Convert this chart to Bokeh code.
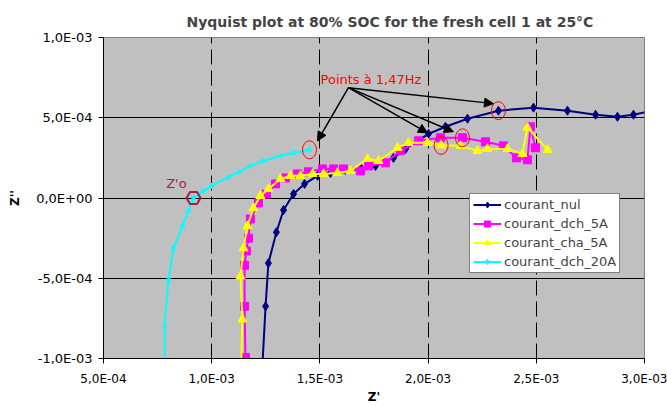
from bokeh.plotting import figure
from bokeh.models import (Range1d, FixedTicker, CustomJSTickFormatter, Legend, LegendItem,
                          Arrow, NormalHead, Label)
from bokeh.embed import file_html
from bokeh.resources import INLINE

title_text = "Nyquist plot at 80% SOC for the fresh cell 1 at 25°C"
x_label = "Z'"
y_label = "Z''"
x_ticks = [5e-4, 1e-3, 1.5e-3, 2e-3, 2.5e-3, 3e-3]
y_ticks = [-1e-3, -5e-4, 0.0, 5e-4, 1e-3]

series_names = ["courant_nul", "courant_dch_5A", "courant_cha_5A", "courant_dch_20A"]

nul_x = [1.228e-3, 1.249e-3, 1.262e-3, 1.299e-3, 1.332e-3, 1.378e-3, 1.429e-3, 1.489e-3,
         1.549e-3, 1.618e-3, 1.688e-3, 1.757e-3, 1.840e-3, 1.896e-3, 2.002e-3, 2.080e-3,
         2.182e-3, 2.325e-3, 2.487e-3, 2.644e-3, 2.774e-3, 2.875e-3, 2.949e-3, 3.03e-3]
nul_y = [-1.2e-3, -6.75e-4, -4.06e-4, -2.13e-4, -7.5e-5, 2.5e-5, 8.8e-5, 1.38e-4,
         1.56e-4, 1.75e-4, 1.88e-4, 2.0e-4, 2.5e-4, 3.06e-4, 4.0e-4, 4.44e-4,
         4.94e-4, 5.44e-4, 5.63e-4, 5.44e-4, 5.19e-4, 5.06e-4, 5.19e-4, 5.42e-4]

dch5_x = [1.158e-3, 1.156e-3, 1.152e-3, 1.152e-3, 1.160e-3, 1.170e-3, 1.179e-3, 1.216e-3,
          1.253e-3, 1.295e-3, 1.341e-3, 1.396e-3, 1.447e-3, 1.512e-3, 1.563e-3, 1.609e-3,
          1.688e-3, 1.725e-3, 1.803e-3, 1.872e-3, 1.956e-3, 2.057e-3, 2.159e-3, 2.265e-3,
          2.348e-3, 2.408e-3, 2.459e-3, 2.473e-3, 2.496e-3]
dch5_y = [-1.2e-3, -9.94e-4, -6.75e-4, -4.19e-4, -3.3e-4, -2.5e-4, -1.31e-4, -3.1e-5,
          2.5e-5, 8.8e-5, 1.25e-4, 1.5e-4, 1.63e-4, 1.81e-4, 1.81e-4, 1.81e-4,
          1.69e-4, 2.0e-4, 2.19e-4, 2.94e-4, 3.56e-4, 3.75e-4, 3.75e-4, 3.5e-4,
          3.25e-4, 2.5e-4, 2.38e-4, 4.44e-4, 3.13e-4]

cha5_x = [1.133e-3, 1.142e-3, 1.133e-3, 1.147e-3, 1.165e-3, 1.193e-3, 1.225e-3, 1.262e-3,
          1.318e-3, 1.364e-3, 1.410e-3, 1.466e-3, 1.517e-3, 1.581e-3, 1.641e-3, 1.720e-3,
          1.771e-3, 1.859e-3, 1.909e-3, 1.997e-3, 2.060e-3, 2.150e-3, 2.228e-3, 2.274e-3,
          2.367e-3, 2.436e-3, 2.459e-3, 2.552e-3]
cha5_y = [-1.2e-3, -7.56e-4, -4.88e-4, -3.13e-4, -1.75e-4, -6.3e-5, 1.3e-5, 5.6e-5,
          1.19e-4, 1.38e-4, 1.38e-4, 1.5e-4, 1.5e-4, 1.56e-4, 1.69e-4, 2.44e-4,
          2.31e-4, 3.13e-4, 3.44e-4, 3.44e-4, 3.28e-4, 3.25e-4, 2.94e-4, 3.06e-4,
          3.06e-4, 2.75e-4, 4.38e-4, 3.0e-4]

dch20_x = [7.85e-4, 7.82e-4, 8.00e-4, 8.23e-4, 8.65e-4, 8.93e-4, 9.16e-4, 9.62e-4,
           9.99e-4, 1.078e-3, 1.128e-3, 1.179e-3, 1.239e-3, 1.318e-3, 1.378e-3, 1.452e-3]
dch20_y = [-1.2e-3, -7.94e-4, -5.13e-4, -3.13e-4, -1.75e-4, -8.1e-5, 0.0, 4.4e-5,
           7.5e-5, 1.31e-4, 1.63e-4, 2.0e-4, 2.31e-4, 2.63e-4, 2.81e-4, 3.0e-4]

# index of the 1.47 Hz point in each series, and of Z'o in the 20A series
idx_147 = {"nul": 17, "dch5": 22, "cha5": 20, "dch20": 15}
idx_z0 = 6

# annotation anchors
note_text = "Points à 1,47Hz"
note_pos = (1.503e-3, 7.375e-4)
arrow_tail = (1.632e-3, 6.875e-4)
arrow_heads_x = [1.489e-3, 2.302e-3, 1.997e-3, 2.117e-3]
arrow_heads_y = [3.56e-4, 5.88e-4, 4.06e-4, 4.13e-4]
z0_text = "Z'o"
z0_pos = (8.37e-4, 8.75e-5)

FONT = "DejaVu Sans"
ZO_COLOR = "#A0204C"

p = figure(width=667, height=406, output_backend="svg", toolbar_location=None,
           x_range=Range1d(5e-4, 3e-3), y_range=Range1d(-1e-3, 1e-3),
           min_border_left=103, min_border_right=23, min_border_top=37, min_border_bottom=48)
p.background_fill_color = "#C0C0C0"
p.border_fill_color = "white"
p.outline_line_color = "#808080"

p.title.text = title_text
p.title.align = "left"
p.title.offset = 83
p.title.text_font = FONT
p.title.text_font_style = "bold"
p.title.text_font_size = "14px"
p.title.standoff = 16

fmt = CustomJSTickFormatter(code="""
const s = tick.toExponential(1);
const parts = s.split('e');
const sign = parts[1][0];
let d = parts[1].slice(1);
if (d.length < 2) d = '0' + d;
return parts[0].replace('.', ',') + 'E' + sign + d;
""")

for ax, ticks in ((p.xaxis[0], x_ticks), (p.yaxis[0], y_ticks)):
    ax.ticker = FixedTicker(ticks=ticks)
    ax.formatter = fmt
    ax.axis_line_color = "black"
    ax.major_tick_line_color = "black"
    ax.major_tick_out = 5
    ax.major_tick_in = 0
    ax.minor_tick_line_color = None
    ax.major_label_text_font = FONT
    ax.major_label_text_font_size = "12px"
    ax.major_label_text_color = "black"
    ax.axis_label_text_font = FONT
    ax.axis_label_text_font_size = "12px"
    ax.axis_label_text_font_style = "bold"
    ax.axis_label_text_color = "black"

p.yaxis.major_label_text_font_size = "13px"
p.xaxis.axis_label = x_label
p.yaxis.axis_label = y_label
p.xaxis.major_label_standoff = 8
p.xaxis.axis_label_standoff = 1
p.yaxis.major_label_standoff = 6
p.yaxis.axis_label_standoff = 11

p.xgrid.ticker = FixedTicker(ticks=x_ticks[1:-1])
p.xgrid.grid_line_color = "black"
p.xgrid.grid_line_dash = "15 6"
p.xgrid.grid_line_width = 1
p.ygrid.ticker = FixedTicker(ticks=y_ticks)
p.ygrid.grid_line_color = "black"
p.ygrid.grid_line_width = 1

items = []
r1 = p.line(nul_x, nul_y, line_color="#000080", line_width=2)
s1 = p.scatter(nul_x, nul_y, marker="diamond", size=9, color="#000080")
items.append(LegendItem(label=series_names[0], renderers=[r1, s1]))

r2 = p.line(dch5_x, dch5_y, line_color="#FF00FF", line_width=2)
s2 = p.scatter(dch5_x, dch5_y, marker="square", size=8, color="#FF00FF")
items.append(LegendItem(label=series_names[1], renderers=[r2, s2]))

r3 = p.line(cha5_x, cha5_y, line_color="#FFFF00", line_width=2)
s3 = p.scatter(cha5_x, cha5_y, marker="triangle", size=9, color="#FFFF00")
items.append(LegendItem(label=series_names[2], renderers=[r3, s3]))

r4 = p.line(dch20_x, dch20_y, line_color="#00FFFF", line_width=2)
s4 = p.scatter(dch20_x, dch20_y, marker="asterisk", size=6, line_color="#00FFFF", line_width=1)
items.append(LegendItem(label=series_names[3], renderers=[r4, s4]))

# red circles around the 1.47 Hz points
cx = [nul_x[idx_147["nul"]], dch5_x[idx_147["dch5"]], cha5_x[idx_147["cha5"]], dch20_x[idx_147["dch20"]]]
cy = [nul_y[idx_147["nul"]], dch5_y[idx_147["dch5"]], cha5_y[idx_147["cha5"]], dch20_y[idx_147["dch20"]]]
p.ellipse(x=cx, y=cy, width=14, height=18, width_units="screen", height_units="screen",
          fill_color=None, line_color="#FF0000", line_width=1)

# Z'o marker
p.scatter(x=[dch20_x[idx_z0]], y=[dch20_y[idx_z0]], marker="hex", size=14,
          fill_color=None, line_color=ZO_COLOR, line_width=2)

for hx, hy in zip(arrow_heads_x, arrow_heads_y):
    p.add_layout(Arrow(end=NormalHead(size=9, fill_color="black", line_color="black"),
                       x_start=arrow_tail[0], y_start=arrow_tail[1], x_end=hx, y_end=hy,
                       line_color="black", line_width=1.5))

p.add_layout(Label(x=note_pos[0], y=note_pos[1], text=note_text, text_color="#FF0000",
                   text_font=FONT, text_font_size="13px", text_baseline="middle"))
p.add_layout(Label(x=z0_pos[0], y=z0_pos[1], text=z0_text, text_color=ZO_COLOR,
                   text_font=FONT, text_font_size="13px", text_baseline="middle",
                   text_align="center"))

legend = Legend(items=items, location=(366, 85), border_line_color="black",
                border_line_width=1, background_fill_color="white", background_fill_alpha=1,
                label_text_font=FONT, label_text_font_size="13px", padding=3, margin=0,
                spacing=4, glyph_height=15, label_height=15, glyph_width=28, label_standoff=3)
p.add_layout(legend, "center")

open("out.html", "w").write(file_html(p, INLINE))
